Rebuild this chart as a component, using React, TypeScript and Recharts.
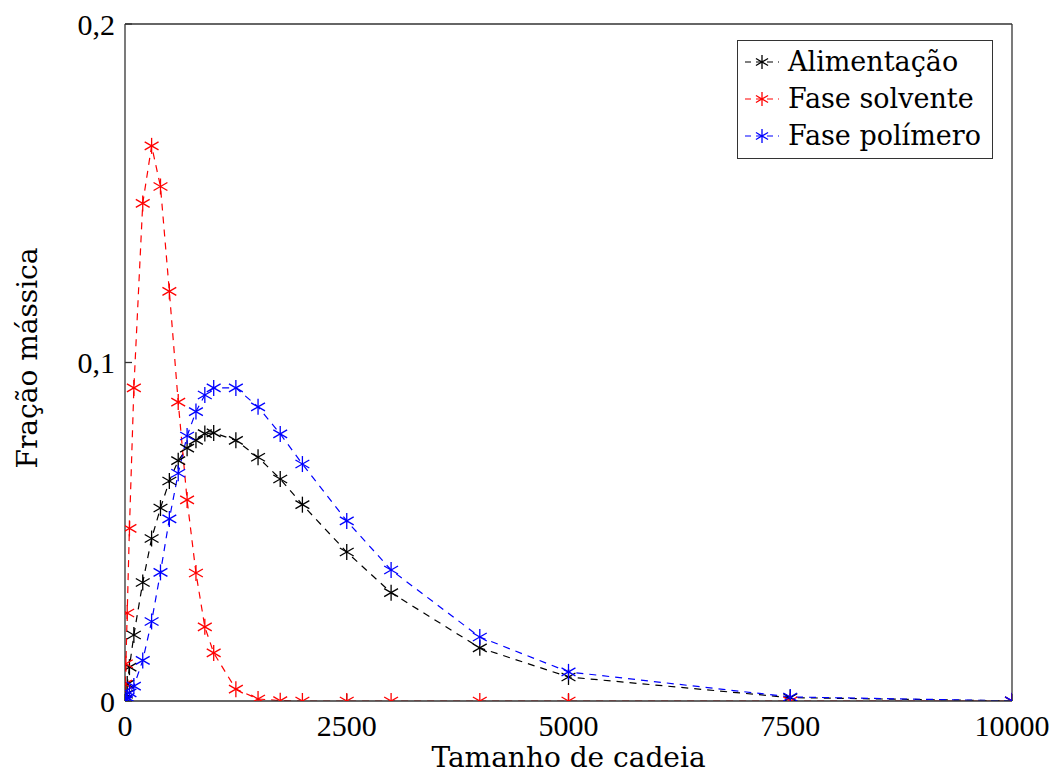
import { LineChart, Line, XAxis, YAxis, Legend } from "recharts";

// chain size (x) shared by all series
const tamanhos = [0, 10, 25, 50, 100, 200, 300, 400, 500, 600, 700, 800, 900, 1000, 1250, 1500, 1750, 2000, 2500, 3000, 4000, 5000, 7500, 10000];

const alimentacao = [0.0005, 0.002, 0.005, 0.01, 0.0195, 0.035, 0.048, 0.057, 0.065, 0.071, 0.0747, 0.077, 0.079, 0.0792, 0.077, 0.072, 0.0656, 0.058, 0.044, 0.032, 0.0157, 0.0071, 0.001, 0.00003];
const faseSolvente = [0.005, 0.011, 0.026, 0.051, 0.0925, 0.147, 0.164, 0.152, 0.121, 0.0883, 0.0594, 0.0378, 0.0219, 0.0142, 0.0035, 0.0006, 0.0001, 0, 0, 0, 0, 0, 0, 0];
const fasePolimero = [0, 0.0003, 0.001, 0.0024, 0.0044, 0.012, 0.0235, 0.038, 0.0538, 0.0673, 0.0783, 0.0855, 0.0904, 0.0925, 0.0925, 0.0869, 0.0789, 0.07, 0.0532, 0.0387, 0.0189, 0.0086, 0.0012, 0.00004];

const xTicks = [0, 2500, 5000, 7500, 10000];
const yTicks = [0, 0.1, 0.2];

const series = [
  { key: "alim", name: "Alimentação", color: "#000000", values: alimentacao },
  { key: "solv", name: "Fase solvente", color: "#ff0000", values: faseSolvente },
  { key: "poli", name: "Fase polímero", color: "#0000ff", values: fasePolimero },
];

const data = tamanhos.map((x, i) => ({
  x,
  alim: alimentacao[i],
  solv: faseSolvente[i],
  poli: fasePolimero[i],
}));

const FONT = "'DejaVu Serif', serif";
const NUM_FONT = "'Liberation Serif', serif"; // narrower digits, close to CM

// pgfplots style asterisk: vertical bar + two diagonals
function Star({ cx, cy, color, r = 8 }: { cx: number; cy: number; color: string; r?: number }) {
  const dx = r * Math.cos(Math.PI / 6);
  const dy = r * Math.sin(Math.PI / 6);
  return (
    <g stroke={color} strokeWidth={1.3}>
      <line x1={cx} y1={cy - r} x2={cx} y2={cy + r} />
      <line x1={cx - dx} y1={cy - dy} x2={cx + dx} y2={cy + dy} />
      <line x1={cx - dx} y1={cy + dy} x2={cx + dx} y2={cy - dy} />
    </g>
  );
}

function LegendBox() {
  return (
    <div
      style={{
        border: "1.3px solid #333",
        background: "#fff",
        padding: "2px 8px 4px 6px",
        fontFamily: FONT,
        fontSize: 27,
        lineHeight: "37px",
        width: 256,
        boxSizing: "border-box",
      }}
    >
      {series.map(s => (
        <div key={s.key} style={{ display: "flex", alignItems: "center", whiteSpace: "nowrap" }}>
          <svg width={36} height={20} style={{ marginRight: 8 }}>
            <line x1={1} y1={10} x2={35} y2={10} stroke={s.color} strokeWidth={1.2} strokeDasharray="6 5" />
            <Star cx={18} cy={10} color={s.color} r={7} />
          </svg>
          <span>{s.name}</span>
        </div>
      ))}
    </div>
  );
}

const fmt = (v: number) => String(v).replace(".", ",");

const YLabel = () => (
  <text
    x={27}
    y={358}
    transform="rotate(-90 27 358)"
    textAnchor="middle"
    dominantBaseline="central"
    fill="#000"
    fontSize={28}
    fontFamily={FONT}
  >
    Fração mássica
  </text>
);

export default function App() {
  return (
    <div style={{ width: 1055, height: 775, overflow: "hidden" }}>
      <style>{`html, body { margin: 0; padding: 0; overflow: hidden; } .recharts-surface { display: block; }`}</style>
      <LineChart width={1055} height={775} data={data} margin={{ top: 0, right: 0, bottom: 0, left: 0 }}>
        <XAxis
          dataKey="x"
          type="number"
          domain={[0, 10000]}
          ticks={xTicks}
          allowDataOverflow
          height={74}
          tickSize={-7}
          tickMargin={21}
          stroke="#333"
          strokeWidth={1.3}
          tick={{ fill: "#000", fontSize: 30, fontFamily: NUM_FONT }}
          label={{ value: "Tamanho de cadeia", position: "insideBottom", offset: 8, fill: "#000", fontSize: 28, fontFamily: FONT }}
        />
        <XAxis
          xAxisId="top"
          orientation="top"
          dataKey="x"
          type="number"
          domain={[0, 10000]}
          ticks={xTicks}
          allowDataOverflow
          height={24}
          tickSize={-7}
          tick={false}
          stroke="#333"
          strokeWidth={1.3}
        />
        <YAxis
          type="number"
          domain={[0, 0.2]}
          ticks={yTicks}
          allowDataOverflow
          width={125}
          tickSize={-7}
          tickMargin={17}
          tickFormatter={fmt}
          stroke="#333"
          strokeWidth={1.3}
          tick={{ fill: "#000", fontSize: 30, fontFamily: NUM_FONT }}
          label={{ content: () => <YLabel /> }}
        />
        <YAxis
          yAxisId="right"
          orientation="right"
          type="number"
          domain={[0, 0.2]}
          ticks={yTicks}
          allowDataOverflow
          width={43}
          tickSize={-7}
          tick={false}
          stroke="#333"
          strokeWidth={1.3}
        />
        <Legend
          layout="horizontal"
          verticalAlign="middle"
          align="center"
          wrapperStyle={{ top: 40, left: 737, right: "auto", width: 256, height: "auto" }}
          content={() => <LegendBox />}
        />
        {series.map(s => (
          <Line
            key={s.key}
            type="linear"
            dataKey={s.key}
            name={s.name}
            stroke={s.color}
            strokeWidth={1.2}
            strokeDasharray="7 6"
            isAnimationActive={false}
            dot={(props: any) => <Star key={`${s.key}-${props.index}`} cx={props.cx} cy={props.cy} color={s.color} />}
            activeDot={false}
          />
        ))}
      </LineChart>
    </div>
  );
}
